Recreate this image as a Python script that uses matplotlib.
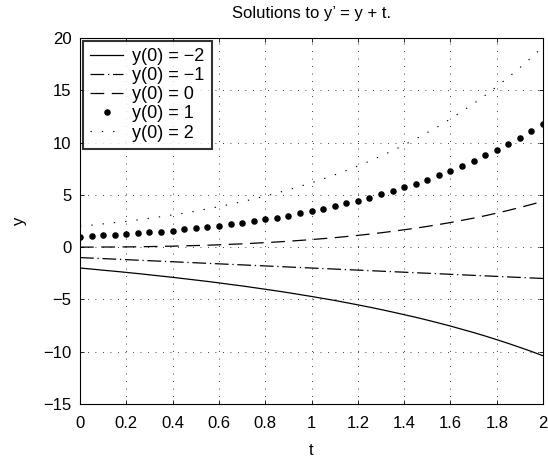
import matplotlib
matplotlib.use("Agg")
import matplotlib.pyplot as plt

plt.rcParams['font.family'] = ['Liberation Sans', 'DejaVu Sans']

t = [0.00, 0.05, 0.10, 0.15, 0.20, 0.25, 0.30, 0.35, 0.40, 0.45,
     0.50, 0.55, 0.60, 0.65, 0.70, 0.75, 0.80, 0.85, 0.90, 0.95,
     1.00, 1.05, 1.10, 1.15, 1.20, 1.25, 1.30, 1.35, 1.40, 1.45,
     1.50, 1.55, 1.60, 1.65, 1.70, 1.75, 1.80, 1.85, 1.90, 1.95, 2.00]

y_m2 = [-2.00, -2.10, -2.21, -2.31, -2.42, -2.53, -2.65, -2.77, -2.89, -3.02,
        -3.15, -3.28, -3.42, -3.57, -3.71, -3.87, -4.03, -4.19, -4.36, -4.54,
        -4.72, -4.91, -5.10, -5.31, -5.52, -5.74, -5.97, -6.21, -6.46, -6.71,
        -6.98, -7.26, -7.55, -7.86, -8.17, -8.50, -8.85, -9.21, -9.59, -9.98, -10.39]

y_m1 = [-1.00, -1.05, -1.10, -1.15, -1.20, -1.25, -1.30, -1.35, -1.40, -1.45,
        -1.50, -1.55, -1.60, -1.65, -1.70, -1.75, -1.80, -1.85, -1.90, -1.95,
        -2.00, -2.05, -2.10, -2.15, -2.20, -2.25, -2.30, -2.35, -2.40, -2.45,
        -2.50, -2.55, -2.60, -2.65, -2.70, -2.75, -2.80, -2.85, -2.90, -2.95, -3.00]

y_0 = [0.00, 0.00, 0.01, 0.01, 0.02, 0.03, 0.05, 0.07, 0.09, 0.12,
       0.15, 0.18, 0.22, 0.27, 0.31, 0.37, 0.43, 0.49, 0.56, 0.64,
       0.72, 0.81, 0.90, 1.01, 1.12, 1.24, 1.37, 1.51, 1.66, 1.81,
       1.98, 2.16, 2.35, 2.56, 2.77, 3.00, 3.25, 3.51, 3.79, 4.08, 4.39]

y_p1 = [1.00, 1.05, 1.11, 1.17, 1.24, 1.32, 1.40, 1.49, 1.58, 1.69,
        1.80, 1.92, 2.04, 2.18, 2.33, 2.48, 2.65, 2.83, 3.02, 3.22,
        3.44, 3.67, 3.91, 4.17, 4.44, 4.73, 5.04, 5.36, 5.71, 6.08,
        6.46, 6.87, 7.31, 7.76, 8.25, 8.76, 9.30, 9.87, 10.47, 11.11, 11.78]

y_p2 = [2.00, 2.10, 2.22, 2.34, 2.46, 2.60, 2.75, 2.91, 3.08, 3.25,
        3.45, 3.65, 3.87, 4.10, 4.34, 4.60, 4.88, 5.17, 5.48, 5.81,
        6.15, 6.52, 6.91, 7.32, 7.76, 8.22, 8.71, 9.22, 9.77, 10.34,
        10.95, 11.58, 12.26, 12.97, 13.72, 14.51, 15.35, 16.23, 17.16, 18.14, 19.17]

labels = ['y(0) = \u22122', 'y(0) = \u22121', 'y(0) = 0', 'y(0) = 1', 'y(0) = 2']
xticks = [0, 0.2, 0.4, 0.6, 0.8, 1, 1.2, 1.4, 1.6, 1.8, 2]
xticklabels = ['0', '0.2', '0.4', '0.6', '0.8', '1', '1.2', '1.4', '1.6', '1.8', '2']
yticks = [-15, -10, -5, 0, 5, 10, 15, 20]
yticklabels = ['\u221215', '\u221210', '\u22125', '0', '5', '10', '15', '20']

fig = plt.figure(figsize=(5.48, 4.57), dpi=100)
ax = fig.add_axes([0.146, 0.116, 0.845, 0.801])

ax.plot(t, y_m2, color='black', lw=0.9, linestyle='-', label=labels[0])
ax.plot(t, y_m1, color='black', lw=0.9, linestyle=(0, (11, 3, 1, 3)), label=labels[1])
ax.plot(t, y_0, color='black', lw=0.9, linestyle=(0, (11, 6)), label=labels[2])
ax.plot(t, y_p1, color='black', linestyle='none', marker='o', markersize=3.7, label=labels[3])
ax.plot(t, y_p2, color='black', lw=0.8, linestyle=(0, (1.2, 9)), label=labels[4])

ax.set_xlim(0, 2)
ax.set_ylim(-15, 20)
ax.set_xticks(xticks)
ax.set_xticklabels(xticklabels)
ax.set_yticks(yticks)
ax.set_yticklabels(yticklabels)
ax.tick_params(direction='in', top=True, right=True, length=3, width=0.6, labelsize=12)
ax.tick_params(axis='x', pad=9)
ax.tick_params(axis='y', pad=6)
ax.grid(True, color='black', linestyle=(0, (1, 8)), linewidth=0.6)
for s in ax.spines.values():
    s.set_linewidth(0.8)

ax.set_title('Solutions to y\u2019 = y + t.', fontsize=12, pad=14)
ax.set_xlabel('t', fontsize=12, labelpad=8)
ax.set_ylabel('y', fontsize=12, labelpad=12)

leg = ax.legend(loc='upper left', fontsize=13, frameon=True, fancybox=False,
                edgecolor='black', borderaxespad=0.15, handlelength=1.85,
                labelspacing=0.12, borderpad=0.4, handletextpad=0.5, numpoints=1)
leg.get_frame().set_linewidth(1.5)

fig.savefig('out.png', dpi=100)
